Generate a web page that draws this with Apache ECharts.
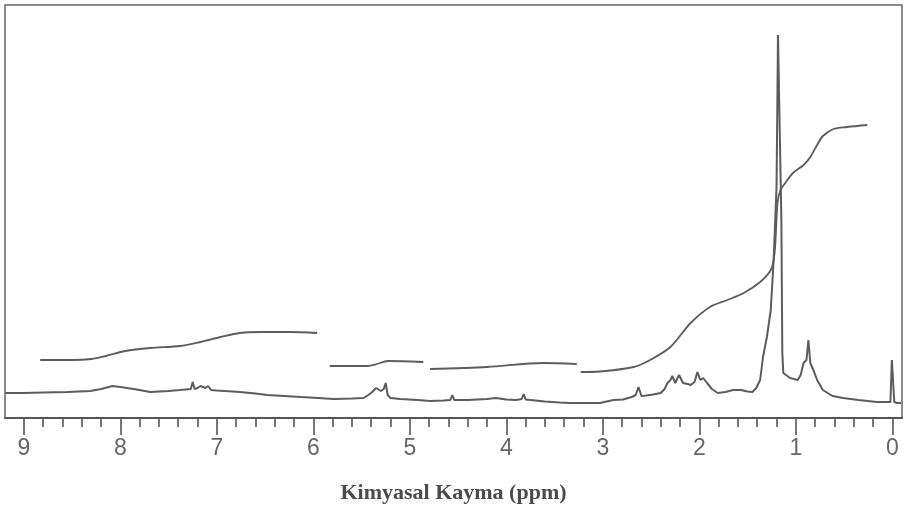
<!DOCTYPE html>
<html>
<head>
<meta charset="utf-8">
<title>1H NMR</title>
<script src="https://cdn.jsdelivr.net/npm/echarts@6/dist/echarts.min.js"></script>
<style>
  html, body { margin: 0; padding: 0; background: #ffffff; }
  #chart { width: 906px; height: 516px; }
</style>
</head>
<body>
<div id="chart"></div>
<script>
// Chemical shift labels (ppm) on the bottom scale
const majorTicks = [0, 1, 2, 3, 4, 5, 6, 7, 8, 9];

// 1H spectrum trace: [ppm, intensity]
const spectrum = [
  [9.19, 27], [9.0, 27], [8.8, 27.5], [8.55, 28], [8.31, 29], [8.2, 31], [8.12, 33], [8.08, 34],
  [8.0, 33], [7.86, 31], [7.69, 28], [7.5, 29], [7.38, 30], [7.27, 31], [7.25, 38], [7.23, 31],
  [7.2, 32], [7.17, 34], [7.12, 32], [7.09, 34], [7.06, 30], [7.0, 29.5], [6.76, 28], [6.6, 26.5],
  [6.48, 25], [6.3, 24], [6.13, 23], [5.95, 22], [5.79, 21], [5.6, 21.5], [5.48, 22], [5.43, 25],
  [5.39, 28], [5.35, 32], [5.33, 33], [5.3, 29], [5.27, 31], [5.25, 37], [5.23, 25], [5.2, 22],
  [5.1, 21], [4.92, 20], [4.79, 19], [4.65, 19.5], [4.58, 20], [4.56, 25], [4.54, 20], [4.4, 20],
  [4.2, 21], [4.11, 22], [4.0, 20.5], [3.9, 20], [3.84, 21], [3.82, 26], [3.8, 20.5], [3.6, 18.5],
  [3.45, 17.5], [3.34, 17], [3.15, 17], [3.03, 17], [2.89, 20], [2.79, 20.5], [2.7, 23], [2.66, 25],
  [2.63, 33], [2.6, 24], [2.55, 24.5], [2.48, 25.5], [2.4, 27], [2.36, 31], [2.33, 37], [2.3, 40],
  [2.28, 44], [2.25, 37], [2.21, 45], [2.17, 37], [2.12, 36], [2.09, 35], [2.05, 38], [2.02, 48],
  [1.99, 40], [1.96, 42], [1.92, 37], [1.87, 31], [1.81, 27], [1.73, 28], [1.65, 30], [1.57, 30],
  [1.5, 28.5], [1.45, 28], [1.41, 32], [1.37, 40], [1.34, 63], [1.3, 83], [1.26, 110], [1.23, 160],
  [1.2, 233], [1.185, 385], [1.165, 385], [1.15, 200], [1.14, 67], [1.13, 47], [1.06, 42], [0.98, 40],
  [0.95, 45], [0.92, 57], [0.89, 60], [0.87, 80], [0.85, 57], [0.81, 48], [0.78, 40], [0.72, 30],
  [0.62, 24], [0.51, 22], [0.35, 20], [0.16, 18], [0.05, 18], [0.02, 18], [0.005, 60], [-0.005, 60],
  [-0.02, 18], [-0.05, 17], [-0.09, 17]
];

// Integral traces, one per integrated region
const integralAromatic = [
  [8.83, 60], [8.5, 60], [8.3, 61], [8.15, 64], [7.95, 69], [7.69, 72], [7.38, 74], [7.17, 78],
  [6.96, 83], [6.76, 87], [6.55, 88], [6.24, 88], [5.96, 87]
];
const integralOlefinic = [
  [5.83, 54], [5.44, 54], [5.34, 56], [5.23, 59], [4.86, 58]
];
const integralMid = [
  [4.79, 51], [4.2, 53], [3.62, 57], [3.27, 56]
];
const integralAliphatic = [
  [3.23, 48], [3.03, 48.5], [2.68, 53], [2.51, 60], [2.3, 73], [2.09, 97], [1.89, 113], [1.71, 120],
  [1.54, 127], [1.37, 138], [1.26, 150], [1.22, 167], [1.19, 217], [1.16, 230], [1.11, 237],
  [1.03, 247], [0.92, 255], [0.85, 263], [0.78, 275], [0.72, 284], [0.61, 291], [0.47, 293], [0.26, 295]
];

const minorTicks = [];
for (let i = 0; i < 9; i++) {
  for (let k = 1; k < 5; k++) minorTicks.push(+(i + k * 0.2).toFixed(1));
}

const ink = '#5c5c5c';
const X_MIN = -0.1, X_MAX = 9.195;

function trace(name, data, width, smooth) {
  return {
    name: name,
    type: 'line',
    data: data,
    showSymbol: false,
    smooth: smooth,
    lineStyle: { color: ink, width: width },
    emphasis: { disabled: true },
    animation: false
  };
}

const chart = echarts.init(document.getElementById('chart'), null, { renderer: 'canvas' });
chart.setOption({
  backgroundColor: '#ffffff',
  grid: {
    left: 5, right: 4, top: 5, bottom: 98,
    show: true,
    borderColor: '#666666',
    borderWidth: 1.5,
    backgroundColor: 'transparent'
  },
  xAxis: [
    {
      type: 'value',
      min: X_MIN, max: X_MAX,
      inverse: true,
      position: 'bottom',
      name: 'Kimyasal Kayma (ppm)',
      nameLocation: 'middle',
      nameGap: 64,
      nameTextStyle: {
        fontFamily: 'Liberation Serif',
        fontWeight: 'bold',
        fontSize: 22,
        color: '#4a4a4a'
      },
      splitLine: { show: false },
      axisLine: { show: true, onZero: false, lineStyle: { color: '#555555', width: 2 } },
      axisTick: {
        show: true, inside: false, length: 17,
        customValues: majorTicks,
        lineStyle: { color: '#555555', width: 1.6 }
      },
      axisLabel: {
        customValues: majorTicks,
        margin: 19,
        fontFamily: 'Liberation Sans',
        fontSize: 23,
        color: '#666666',
        formatter: v => String(v)
      }
    },
    {
      type: 'value',
      min: X_MIN, max: X_MAX,
      inverse: true,
      position: 'bottom',
      splitLine: { show: false },
      axisLine: { show: false, onZero: false },
      axisTick: {
        show: true, length: 9,
        customValues: minorTicks,
        lineStyle: { color: '#555555', width: 1.6 }
      },
      axisLabel: { show: false }
    }
  ],
  yAxis: {
    type: 'value',
    min: 2, max: 415,
    show: false,
    splitLine: { show: false }
  },
  series: [
    trace('spectrum', spectrum, 2, false),
    trace('integral 1', integralAromatic, 1.8, 0.3),
    trace('integral 2', integralOlefinic, 1.8, 0.3),
    trace('integral 3', integralMid, 1.8, 0.3),
    trace('integral 4', integralAliphatic, 1.8, 0.3)
  ]
});
</script>
</body>
</html>
